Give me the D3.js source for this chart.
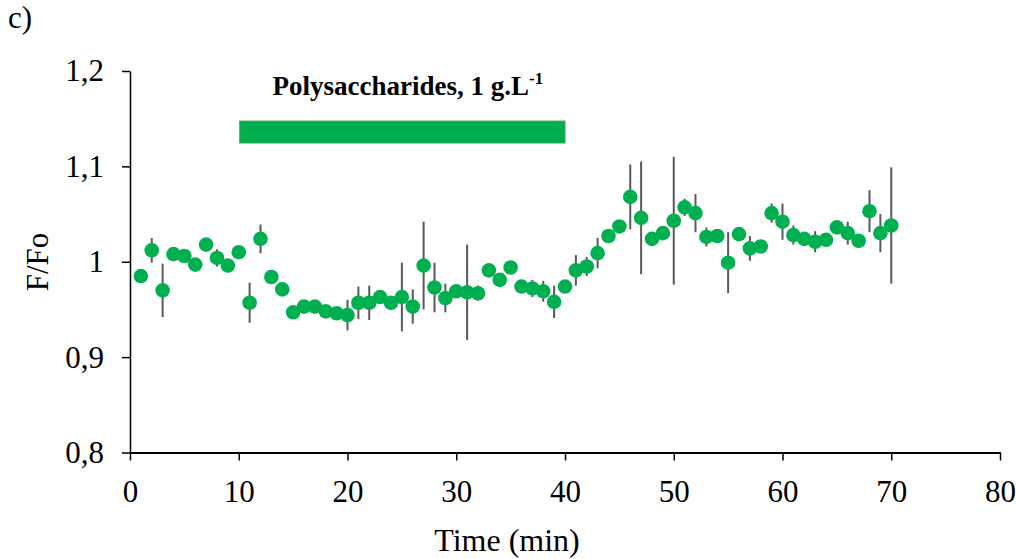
<!DOCTYPE html>
<html>
<head>
<meta charset="utf-8">
<script src="https://cdn.jsdelivr.net/npm/d3@7"></script>
<style>
  html, body { margin: 0; padding: 0; background: #fff; }
  svg text { font-family: "Liberation Serif", "Times New Roman", serif; fill: #000; }
</style>
</head>
<body>
<svg id="chart" width="1016" height="559"></svg>
<script>
// ---- data ----
const times = [1,2,3,4,5,6,7,8,9,10,11,12,13,14,15,16,17,18,19,20,21,22,23,24,25,26,27,28,29,30,31,32,33,34,35,36,37,38,39,40,41,42,43,44,45,46,47,48,49,50,51,52,53,54,55,56,57,58,59,60,61,62,63,64,65,66,67,68,69,70];
const ratio = [0.985,1.012,0.970,1.008,1.006,0.997,1.018,1.004,0.996,1.010,
               0.957,1.024,0.984,0.971,0.947,0.953,0.953,0.948,0.946,0.944,
               0.957,0.957,0.963,0.957,0.963,0.953,0.996,0.973,0.962,0.969,
               0.968,0.967,0.991,0.981,0.994,0.974,0.972,0.969,0.958,0.974,
               0.991,0.995,1.009,1.027,1.037,1.068,1.046,1.024,1.030,1.043,
               1.057,1.051,1.026,1.027,0.999,1.029,1.014,1.016,1.051,1.042,
               1.028,1.024,1.021,1.023,1.036,1.030,1.022,1.053,1.030,1.038];
const errors = [0.004,0.013,0.028,0.004,0.004,0.004,0.004,0.009,0.004,0.004,
                0.021,0.015,0.004,0.004,0.004,0.004,0.004,0.004,0.004,0.016,
                0.017,0.018,0.006,0.006,0.036,0.018,0.046,0.026,0.015,0.006,
                0.050,0.008,0.006,0.004,0.004,0.004,0.009,0.011,0.017,0.004,
                0.016,0.010,0.016,0.004,0.004,0.034,0.059,0.004,0.004,0.067,
                0.009,0.020,0.010,0.004,0.032,0.004,0.013,0.004,0.010,0.019,
                0.010,0.004,0.011,0.004,0.004,0.012,0.004,0.022,0.020,0.061];
const xTicks = [0,10,20,30,40,50,60,70,80];
const yTicks = [0.8,0.9,1.0,1.1,1.2];
const yTickLabels = ["0,8","0,9","1","1,1","1,2"];
const treatmentStart = 10, treatmentEnd = 40;
const treatmentLow = 1.1245, treatmentHigh = 1.1475;
const treatmentLabel = "Polysaccharides, 1 g.L";
const treatmentSup = "-1";
const panelLabel = "c)";
const xTitle = "Time (min)";
const yTitle = "F/Fo";

// ---- chart ----
const svg = d3.select("#chart");
const x = d3.scaleLinear().domain([0, 80]).range([130, 1000]);
const y = d3.scaleLinear().domain([0.8, 1.2]).range([452.5, 71]);
const green = "#00B050";

const data = times.map((t, i) => ({t, v: ratio[i], e: errors[i]}));

// x axis
const xAxis = svg.append("g").attr("transform", `translate(0,${y(0.8)})`)
  .call(d3.axisBottom(x).tickValues(xTicks).tickSize(8).tickSizeOuter(0).tickPadding(19));
xAxis.select(".domain").attr("stroke", "#000").attr("stroke-width", 2);
xAxis.selectAll(".tick line").attr("stroke", "#000").attr("stroke-width", 1.5);
xAxis.selectAll(".tick text").attr("font-size", 31).attr("font-family", "Liberation Serif").attr("fill", "#000");

// y axis
const yAxis = svg.append("g").attr("transform", `translate(${x(0)},0)`)
  .call(d3.axisLeft(y).tickValues(yTicks).tickFormat((d, i) => yTickLabels[i]).tickSize(8).tickSizeOuter(0).tickPadding(18));
yAxis.select(".domain").attr("stroke", "#000").attr("stroke-width", 1.5);
yAxis.selectAll(".tick line").attr("stroke", "#000").attr("stroke-width", 1.5);
yAxis.selectAll(".tick text").attr("font-size", 31).attr("font-family", "Liberation Serif").attr("fill", "#000");

// treatment bar
svg.append("rect")
  .attr("x", x(treatmentStart) + 1).attr("width", x(treatmentEnd) - x(treatmentStart) - 1)
  .attr("y", y(treatmentHigh)).attr("height", y(treatmentLow) - y(treatmentHigh))
  .attr("fill", green).attr("stroke", "#3AA84A").attr("stroke-width", 1);

const title = svg.append("text")
  .attr("x", (x(treatmentStart) + x(treatmentEnd)) / 2 + 6).attr("y", 95)
  .attr("text-anchor", "middle").attr("font-size", 27).attr("font-weight", "bold");
title.append("tspan").text(treatmentLabel);
title.append("tspan").attr("font-size", 17).attr("dy", -11).text(treatmentSup);

// error bars
svg.append("g").selectAll("line").data(data).join("line")
  .attr("x1", d => x(d.t)).attr("x2", d => x(d.t))
  .attr("y1", d => y(d.v - d.e)).attr("y2", d => y(d.v + d.e))
  .attr("stroke", "#595959").attr("stroke-width", 2);

// points
svg.append("g").selectAll("circle").data(data).join("circle")
  .attr("cx", d => x(d.t)).attr("cy", d => y(d.v)).attr("r", 7.3)
  .attr("fill", green);

// labels
svg.append("text").attr("x", 8).attr("y", 28).attr("font-size", 31).text(panelLabel);
svg.append("text").attr("x", 507).attr("y", 551)
  .attr("text-anchor", "middle").attr("font-size", 32).text(xTitle);
svg.append("text").attr("transform", `translate(48,262) rotate(-90)`)
  .attr("text-anchor", "middle").attr("font-size", 31).text(yTitle);
</script>
</body>
</html>
